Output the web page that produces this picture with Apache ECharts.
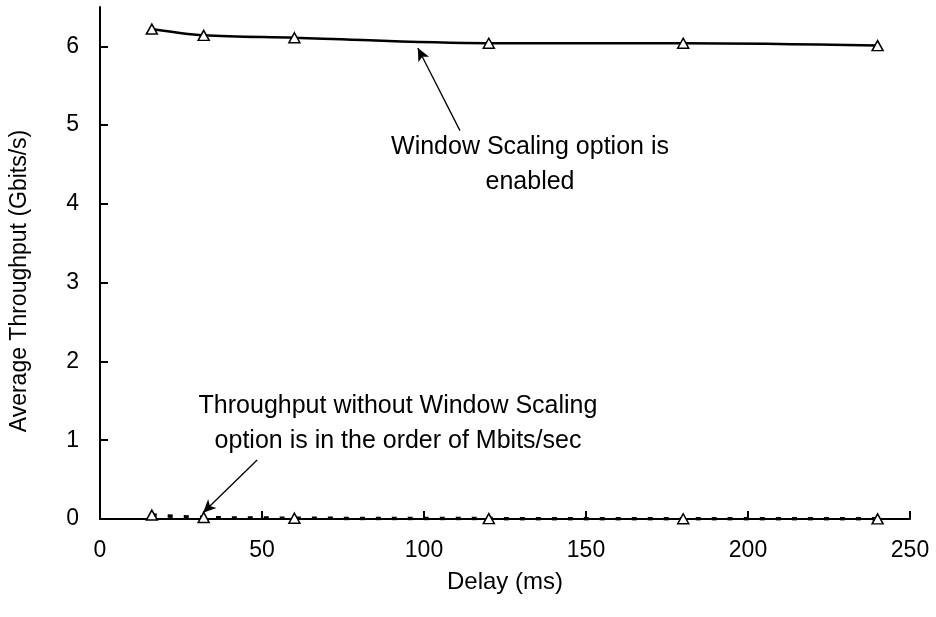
<!DOCTYPE html>
<html>
<head>
<meta charset="utf-8">
<title>Average Throughput vs Delay</title>
<script src="https://cdn.jsdelivr.net/npm/echarts@6/dist/echarts.min.js"></script>
<style>
  html, body { margin: 0; padding: 0; background: #fff; }
  #chart { width: 936px; height: 617px; }
</style>
</head>
<body>
<div id="chart"></div>
<script>
// Delay values (ms) on the x axis
const delays = [16, 32, 60, 120, 180, 240];
// Average throughput (Gbits/s) with the TCP Window Scaling option enabled
const withScaling = [6.22, 6.14, 6.11, 6.04, 6.04, 6.01];
// Average throughput (Gbits/s) without Window Scaling (Mbits/s range)
const withoutScaling = [0.05, 0.02, 0.01, 0.005, 0.003, 0.002];
// Tick labels
const yTicks = [0, 1, 2, 3, 4, 5, 6];
const xTicks = [0, 50, 100, 150, 200, 250];

const FONT = 'Liberation Sans, Arial, sans-serif';
const FS = 23;

const pairs = (xs, ys) => xs.map((x, i) => [x, ys[i]]);

// Arrow from the annotation text to the point it refers to, in data coordinates
const arrow = (from, to) => [
  { coord: from, symbol: 'none' },
  { coord: to, symbol: 'arrow' }
];

const chart = echarts.init(document.getElementById('chart'), null, { renderer: 'canvas' });

chart.setOption({
  animation: false,
  backgroundColor: '#ffffff',
  textStyle: { fontFamily: FONT, color: '#000' },
  grid: { left: 100, right: 26, top: 7, bottom: 98, containLabel: false },
  xAxis: {
    type: 'value',
    min: 0, max: 250, interval: 50,
    name: 'Delay (ms)',
    nameLocation: 'middle',
    nameGap: 51,
    nameTextStyle: { fontFamily: FONT, fontSize: 24, color: '#000' },
    axisLine: { show: true, onZero: false, lineStyle: { color: '#000', width: 2 } },
    axisTick: { show: true, inside: true, length: 8, lineStyle: { color: '#000', width: 2 }, customValues: xTicks },
    axisLabel: { margin: 20, fontFamily: FONT, fontSize: FS, color: '#000', customValues: xTicks },
    splitLine: { show: false }
  },
  yAxis: {
    type: 'value',
    min: 0, max: 6.5, interval: 1,
    axisLine: { show: true, lineStyle: { color: '#000', width: 2 } },
    axisTick: { show: true, inside: true, length: 8, lineStyle: { color: '#000', width: 2 }, customValues: yTicks },
    axisLabel: { margin: 21, fontFamily: FONT, fontSize: FS, color: '#000', customValues: yTicks },
    splitLine: { show: false }
  },
  series: [
    {
      name: 'Window Scaling enabled',
      type: 'line',
      data: pairs(delays, withScaling),
      smooth: 0.35,
      symbol: 'triangle',
      symbolSize: [11, 10],
      itemStyle: { color: '#fff', borderColor: '#000', borderWidth: 1.5 },
      lineStyle: { color: '#000', width: 2.5 },
      z: 3,
      markLine: {
        silent: true,
        symbolSize: [9, 13],
        label: { show: false },
        lineStyle: { color: '#000', width: 1.3, type: 'solid' },
        data: [arrow([111.1, 4.93], [98.1, 5.98])]
      }
    },
    {
      name: 'Window Scaling disabled',
      type: 'line',
      data: pairs(delays, withoutScaling),
      smooth: 0.35,
      symbol: 'triangle',
      symbolSize: [11, 10],
      itemStyle: { color: '#fff', borderColor: '#000', borderWidth: 1.5 },
      lineStyle: { color: '#000', width: 3.5, type: [5, 11] },
      z: 3,
      markLine: {
        silent: true,
        symbolSize: [9, 13],
        label: { show: false },
        lineStyle: { color: '#000', width: 1.3, type: 'solid' },
        data: [arrow([48.5, 0.75], [31.8, 0.08])]
      }
    }
  ],
  graphic: [
    {
      // y axis title
      type: 'text',
      x: 20, y: 281,
      rotation: Math.PI / 2,
      style: {
        text: 'Average Throughput (Gbits/s)',
        align: 'center', verticalAlign: 'middle',
        fontFamily: FONT, fontSize: FS, fill: '#000'
      }
    },
    {
      type: 'text',
      x: 530, y: 130,
      style: {
        text: 'Window Scaling option is\nenabled',
        align: 'center', verticalAlign: 'top',
        fontFamily: FONT, fontSize: 25, lineHeight: 35, fill: '#000'
      }
    },
    {
      type: 'text',
      x: 398, y: 389,
      style: {
        text: 'Throughput without Window Scaling\noption is in the order of Mbits/sec',
        align: 'center', verticalAlign: 'top',
        fontFamily: FONT, fontSize: 25, lineHeight: 35, fill: '#000'
      }
    }
  ]
});
</script>
</body>
</html>
